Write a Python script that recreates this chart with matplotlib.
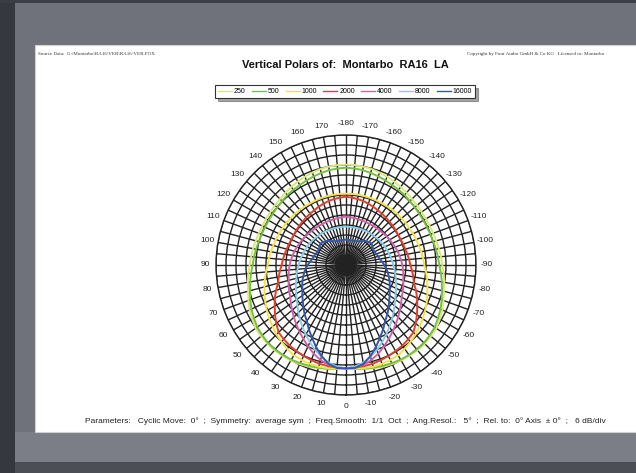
import numpy as np
import matplotlib
matplotlib.use("Agg")
import matplotlib.pyplot as plt
import matplotlib.patches as patches

# angles 0..180 deg in 5 deg steps (symmetric, mirrored for the negative side)
angles = list(range(0, 185, 5))

freq_labels = ["250", "500", "1000", "2000", "4000", "8000", "16000"]
line_colors = ["#d9e87a", "#78c043", "#f3e24a", "#e2402c", "#cf63a6", "#8ccbe8", "#3557a8"]

# relative level in dB (0 dB = on-axis)
lvl_250 = [0, 0.6, 1.2, 2.1, 3.0, 3.6, 4.2, 4.5, 4.8, 4.8, 4.5, 4.2, 3.0, 1.8, 0.3, -1.2, -2.2, -3.2, -4.2,
           -4.8, -5.4, -6.0, -6.3, -6.6, -6.6, -6.6, -6.3, -6.0, -5.4, -4.8, -4.2, -3.6, -3.0, -2.4, -2.1, -1.8, -1.8]
lvl_500 = [0, 0.6, 1.2, 1.8, 2.4, 3.0, 3.6, 3.9, 4.2, 4.2, 3.6, 3.0, 1.8, 0.6, -0.9, -2.4, -3.6, -4.8, -6.0,
           -6.6, -7.2, -7.8, -8.1, -8.4, -8.4, -8.4, -8.1, -7.8, -7.2, -6.9, -6.6, -6.0, -5.4, -4.8, -4.2, -3.9, -3.6]
lvl_1000 = [0, 0.4, 0.8, 1.2, 1.1, 0.9, 0.6, -0.6, -1.8, -3.0, -4.5, -5.8, -7.2, -8.6, -10.0, -11.4, -12.6, -13.8, -15.0,
            -15.6, -16.2, -16.8, -17.2, -17.6, -18.0, -18.2, -18.4, -18.6, -18.8, -19.0, -19.2, -19.2, -19.2, -19.2, -19.2, -19.2, -19.2]
lvl_2000 = [0, -0.2, -0.4, -0.6, -1.2, -1.8, -2.4, -3.0, -3.9, -4.8, -7.4, -10.0, -12.6, -14.9, -17.3, -19.8, -21.0, -22.2, -23.4,
            -24.0, -24.6, -25.2, -25.5, -25.8, -25.8, -25.6, -25.4, -25.2, -24.8, -24.4, -24.0, -23.4, -22.8, -22.2, -21.8, -21.4, -21.0]
lvl_4000 = [0, -0.4, -1.2, -3.0, -5.4, -8.1, -10.8, -13.2, -15.6, -17.7, -19.8, -21.6, -23.4, -24.4, -25.4, -26.4, -27.0, -27.6, -28.2,
            -28.8, -29.4, -30.0, -30.6, -31.2, -31.8, -32.2, -32.6, -33.0, -33.2, -33.4, -33.6, -33.6, -33.6, -33.6, -33.4, -33.2, -33.0]
lvl_8000 = [0, -0.8, -2.4, -5.0, -7.8, -10.8, -13.8, -16.5, -19.2, -21.6, -24.0, -25.8, -27.6, -28.8, -30.0, -31.2, -32.0, -32.8, -33.6,
            -34.2, -34.8, -35.4, -35.8, -36.2, -36.6, -37.0, -37.4, -37.8, -38.0, -38.2, -38.4, -38.6, -38.8, -39.0, -39.0, -39.0, -39.0]
lvl_16000 = [0, 0, -1.8, -5.4, -9.6, -13.8, -17.4, -21.0, -23.4, -25.8, -28.2, -30.0, -31.8, -33.0, -34.2, -35.4, -36.6, -37.8, -39.0,
             -40.2, -41.4, -42.0, -42.6, -43.2, -43.2, -42.6, -42.0, -42.6, -43.2, -44.4, -45.6, -46.2, -46.8, -46.8, -46.8, -46.8, -46.8]

levels = [lvl_250, lvl_500, lvl_1000, lvl_2000, lvl_4000, lvl_8000, lvl_16000]

R_MIN, R_MAX = -62, 16   # 6 dB/div, 13 divisions


def draw_polar_page(out_path="out.png"):
    plt.rcParams['font.family'] = ['Liberation Sans', 'DejaVu Sans']

    fig = plt.figure(figsize=(6.36, 4.73), dpi=100, facecolor='#6f727a')

    # screen frame / paper (kept behind the axes)
    def bg_rect(xy, w, h, fc, **kw):
        fig.patches.append(patches.Rectangle(xy, w, h, transform=fig.transFigure,
                                             facecolor=fc, zorder=-10, **kw))

    bg_rect((0, 0), 0.024, 1, '#35383f', edgecolor='none')
    bg_rect((0, 0.994), 1, 0.006, '#3b3e45', edgecolor='none')
    bg_rect((0.024, 0), 0.976, 0.024, '#4b4e55', edgecolor='none')
    bg_rect((0.024, 0.024), 0.976, 0.063, '#7b7e86', edgecolor='none')
    bg_rect((0.055, 0.087), 0.95, 0.818, 'white', edgecolor='#d0d0d0', lw=0.8)

    # polar diagram
    ax = fig.add_axes([0.3396, 0.1649, 0.4088, 0.5497], projection='polar')
    ax.set_zorder(2)
    ax.set_facecolor('white')
    ax.set_theta_zero_location('S')
    ax.set_theta_direction(-1)
    ax.set_ylim(R_MIN, R_MAX)
    ax.set_axisbelow(True)

    spoke_angles = np.arange(0, 360, 5)
    spoke_labels = []
    for a in spoke_angles:
        if a % 10:
            spoke_labels.append('')
        else:
            spoke_labels.append(str(a if a < 180 else a - 360))
    ax.set_thetagrids(spoke_angles, spoke_labels, fontsize=6, color='#222222')
    ax.set_rgrids(np.arange(R_MIN, R_MAX + 1, 6), labels=[])
    ax.tick_params(axis='x', pad=-2.5)
    ax.grid(True, color='#222222', lw=1.0)
    ax.spines['polar'].set_color('#222222')
    ax.spines['polar'].set_linewidth(1.0)

    th_half = np.deg2rad(angles)
    for lvl, col, lab in zip(levels, line_colors, freq_labels):
        th = np.concatenate([th_half, -th_half[::-1]])
        r = np.concatenate([lvl, lvl[::-1]])
        ax.plot(th, r, color=col, lw=1.4, label=lab, zorder=3)

    # header texts
    fig.text(0.060, 0.885, r"Source Data:  G:\Montarbo\RA16\VER\RA16-VER.POX",
             family='Liberation Serif', fontsize=3.6, color='#333333', va='center')
    fig.text(0.734, 0.885, "Copyright by Four Audio GmbH & Co KG   Licensed to: Montarbo",
             family='Liberation Serif', fontsize=3.6, color='#333333', va='center')
    fig.text(0.5425, 0.862, "Vertical Polars of:  Montarbo  RA16  LA",
             fontsize=8, fontweight='bold', ha='center', va='center', color='#111111')

    leg = fig.legend(loc='center', bbox_to_anchor=(0.5425, 0.806), ncol=7, fontsize=5,
                     handlelength=2.0, handletextpad=0.3, columnspacing=0.9,
                     frameon=True, fancybox=False, shadow=True, borderpad=0.4)
    leg.get_frame().set_edgecolor('#333333')
    leg.get_frame().set_linewidth(0.8)
    for line in leg.get_lines():
        line.set_linewidth(1.0)

    fig.text(0.5425, 0.110,
             "Parameters:   Cyclic Move:  0\u00b0  ;  Symmetry:  average sym  ;  Freq.Smooth:  1/1  Oct  ;  "
             "Ang.Resol.:   5\u00b0  ;  Rel. to:  0\u00b0 Axis  \u00b1 0\u00b0  ;   6 dB/div",
             fontsize=6, ha='center', va='center', color='#222222')

    fig.savefig(out_path, dpi=100, facecolor=fig.get_facecolor())
    plt.close(fig)


if __name__ == "__main__":
    draw_polar_page("out.png")
